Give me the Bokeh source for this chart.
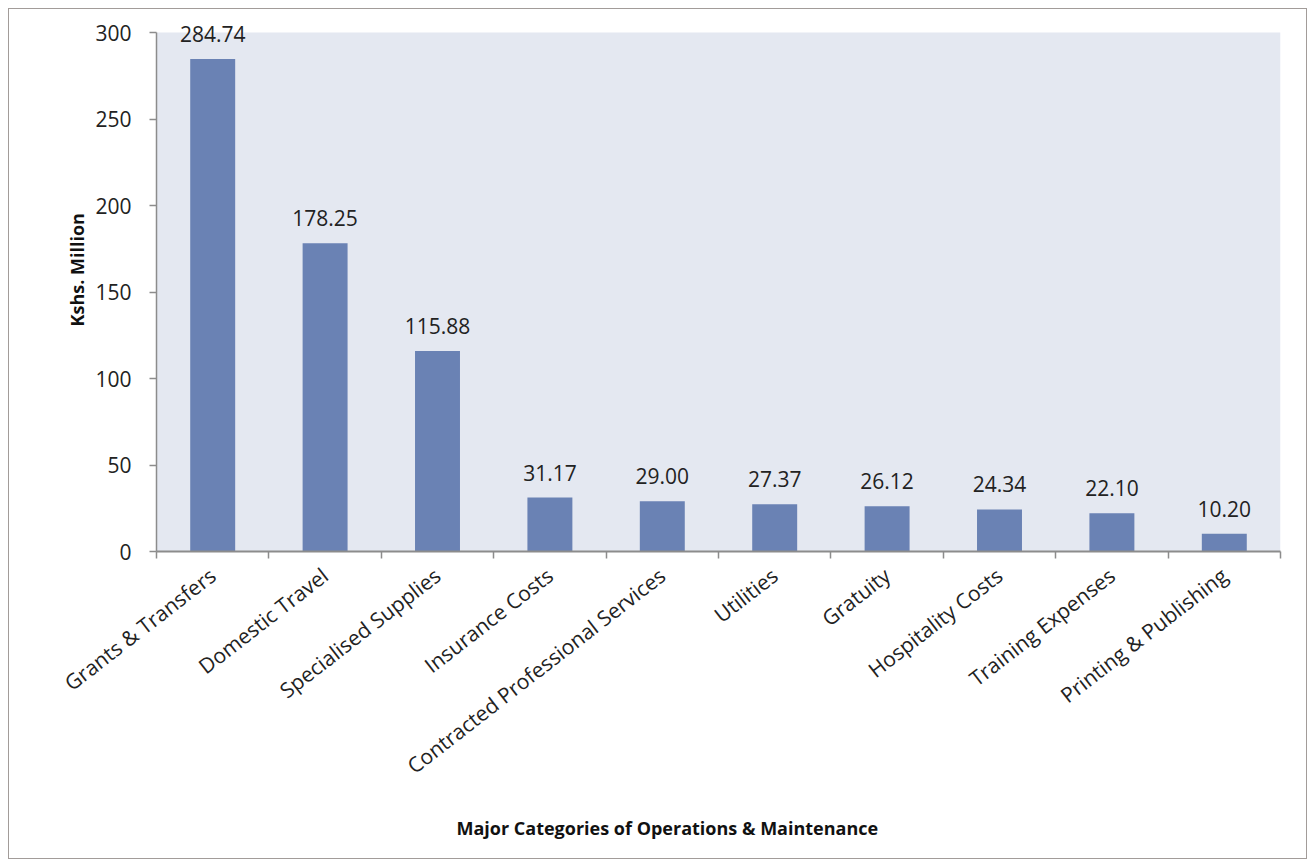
import math
from bokeh.plotting import figure
from bokeh.models import ColumnDataSource, FixedTicker, Title, Range1d, BoxAnnotation
from bokeh.core.properties import value
from bokeh.embed import file_html
from bokeh.resources import INLINE

categories = ["Grants & Transfers", "Domestic Travel", "Specialised Supplies", "Insurance Costs",
              "Contracted Professional Services", "Utilities", "Gratuity", "Hospitality Costs",
              "Training Expenses", "Printing & Publishing"]
amounts = [284.74, 178.25, 115.88, 31.17, 29.00, 27.37, 26.12, 24.34, 22.10, 10.20]
y_ticks = [0, 50, 100, 150, 200, 250, 300]
y_max = 300

FONT = "Open Sans"
positions = [i + 0.5 for i in range(len(categories))]
labels = ["%.2f" % v for v in amounts]
src = ColumnDataSource(dict(x=positions, top=amounts, label=labels))

# frame extends a little above 300 so that the top value label is not clipped
p = figure(width=1299, height=851, output_backend="svg", toolbar_location=None,
           x_range=Range1d(0, len(categories)), y_range=Range1d(0, 311),
           min_border_left=147, min_border_right=28, min_border_top=4, min_border_bottom=300)
p.styles = {"border": "1px solid #a29c99", "box-sizing": "border-box",
            "margin-left": "8px", "margin-top": "8px"}
p.background_fill_color = "white"
p.border_fill_color = "white"
p.outline_line_color = None
p.xgrid.visible = False
p.ygrid.visible = False

p.add_layout(BoxAnnotation(bottom=0, top=y_max, fill_color="#e4e8f1", fill_alpha=1,
                           line_color=None, level="underlay"))

p.vbar(x="x", top="top", width=0.4, bottom=0, source=src, fill_color="#6a82b4", line_color=None)
p.text(x="x", y="top", text="label", source=src, text_align="center", text_baseline="bottom",
       y_offset=-17, text_font=value(FONT), text_font_size="21px", text_color="#222222")

# y axis
ya = p.yaxis[0]
ya.ticker = FixedTicker(ticks=y_ticks, minor_ticks=[])
ya.bounds = (0, y_max)
ya.axis_line_color = "#8c8c8c"
ya.axis_line_width = 1.5
ya.major_tick_line_color = "#8c8c8c"
ya.major_tick_line_width = 1.5
ya.major_tick_in = 0
ya.major_tick_out = 7
ya.major_label_standoff = 18
ya.major_label_text_font = FONT
ya.major_label_text_font_size = "21px"
ya.major_label_text_color = "#222222"
ya.minor_tick_line_color = None

# x axis
xa = p.xaxis[0]
xa.ticker = FixedTicker(ticks=positions, minor_ticks=list(range(len(categories) + 1)))
xa.major_label_overrides = {pos: c for pos, c in zip(positions, categories)}
xa.major_tick_line_color = None
xa.major_tick_in = 0
xa.major_tick_out = 0
xa.minor_tick_line_color = "#8c8c8c"
xa.minor_tick_line_width = 1.5
xa.minor_tick_in = 0
xa.minor_tick_out = 7
xa.axis_line_color = "#8c8c8c"
xa.axis_line_width = 2
xa.major_label_orientation = 0.66
xa.major_label_standoff = 14
xa.major_label_text_font = FONT
xa.major_label_text_font_size = "21px"
xa.major_label_text_color = "#222222"

xt = Title(text="Major Categories of Operations & Maintenance", align="left", offset=300,
           text_font=FONT, text_font_size="18px", text_font_style="bold", text_color="#111111",
           standoff=41)
p.add_layout(xt, "below")
yt = Title(text="Kshs. Million", align="left", offset=225,
           text_font=FONT, text_font_size="18px", text_font_style="bold", text_color="#111111",
           standoff=8)
p.add_layout(yt, "left")

open("out.html", "w").write(file_html(p, INLINE))
